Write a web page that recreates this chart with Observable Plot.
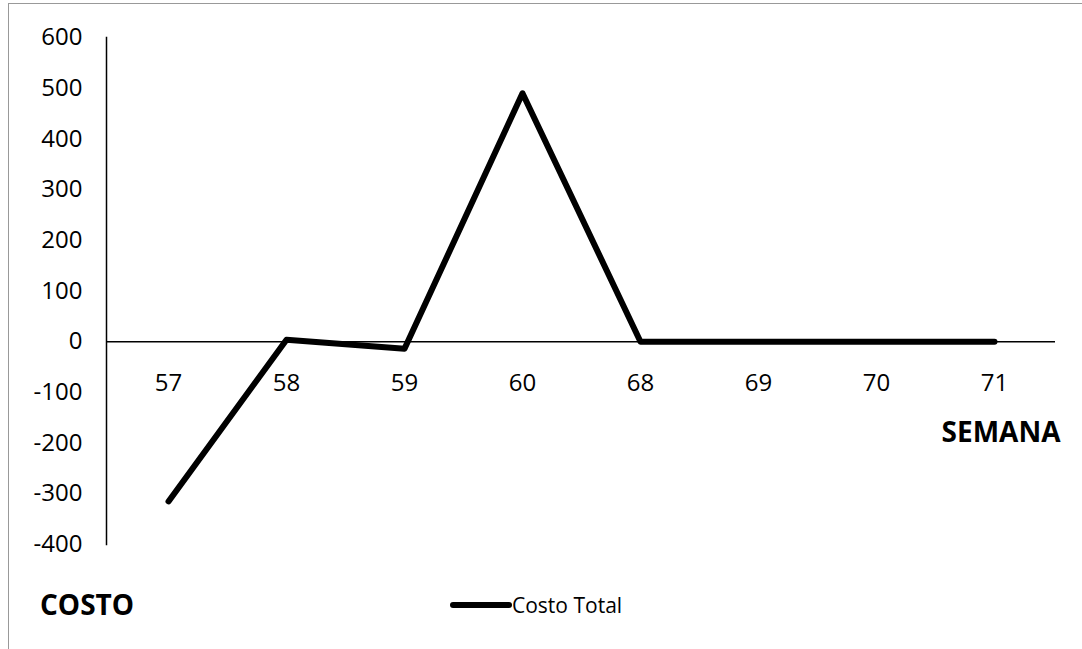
<!DOCTYPE html>
<html>
<head>
<meta charset="utf-8">
<script src="https://cdn.jsdelivr.net/npm/d3@7"></script>
<script src="https://cdn.jsdelivr.net/npm/@observablehq/plot@0.6"></script>
<style>
  html, body { margin: 0; padding: 0; background: #fff; }
  #wrap { position: relative; width: 1082px; height: 649px; overflow: hidden; font-family: "Open Sans", sans-serif; }
  #border { position: absolute; left: 8px; top: 3px; width: 1100px; height: 700px; border-left: 1px solid #999; border-top: 1px solid #999; }
  #ylabel { position: absolute; left: 40px; top: 586px; font-size: 28px; font-weight: bold; line-height: 36px; }
  #legend { position: absolute; left: 450px; top: 590px; font-size: 21px; line-height: 30px; display: flex; align-items: center; }
  #legend .swatch { display: inline-block; width: 62px; height: 6px; background: #000; border-radius: 3px; }
</style>
</head>
<body>
<div id="wrap">
  <div id="chart"></div>
  <div id="border"></div>
  <div id="ylabel">COSTO</div>
  <div id="legend"><span class="swatch"></span><span>Costo Total</span></div>
</div>
<script>
const semanas = ["57", "58", "59", "60", "68", "69", "70", "71"];
const costoTotal = [-315, 4, -14, 490, 0, 0, 0, 0];
const yTicks = [-400, -300, -200, -100, 0, 100, 200, 300, 400, 500, 600];
const xTitle = "SEMANA";

const data = semanas.map((s, i) => ({semana: s, costo: costoTotal[i]}));

const chart = Plot.plot({
  width: 1082,
  height: 649,
  marginLeft: 106,
  marginRight: 27,
  marginTop: 37,
  marginBottom: 105,
  style: {fontFamily: "Open Sans", fontSize: "24px", color: "#000", background: "transparent", overflow: "visible"},
  x: {type: "point", domain: semanas, padding: 0.5, axis: null},
  y: {domain: [-400, 600], axis: null},
  marks: [
    Plot.axisY(yTicks, {tickSize: 0, tickPadding: 24, fontSize: 24, label: null, tickFormat: d => String(d)}),
    Plot.frame({anchor: "left", stroke: "#000", strokeWidth: 1.5}),
    Plot.ruleY([0], {stroke: "#000", strokeWidth: 1.5}),
    Plot.text(semanas, {x: d => d, y: () => 0, dy: 42, text: d => d, fontSize: 24}),
    Plot.line(data, {x: "semana", y: "costo", stroke: "#000", strokeWidth: 6, strokeLinecap: "round", strokeLinejoin: "round"}),
    Plot.text([xTitle], {frameAnchor: "right", x: null, y: () => -100, dx: 5, dy: 41, text: d => d, textAnchor: "end", fontSize: 28, fontWeight: "bold"})
  ]
});
document.getElementById("chart").appendChild(chart);
</script>
</body>
</html>
